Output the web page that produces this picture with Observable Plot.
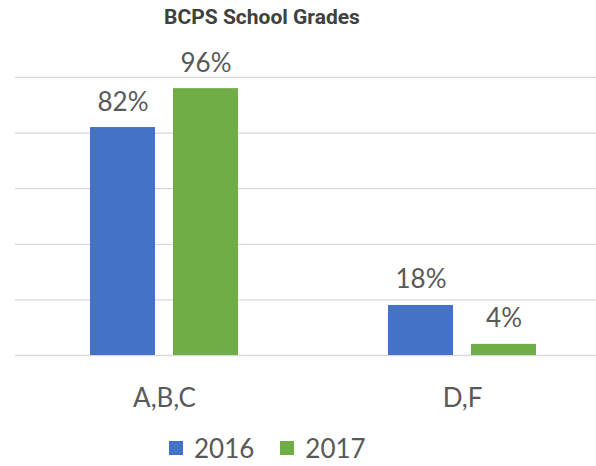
<!DOCTYPE html>
<html><head><meta charset="utf-8">
<script src="https://cdn.jsdelivr.net/npm/d3@7"></script>
<script src="https://cdn.jsdelivr.net/npm/@observablehq/plot@0.6"></script>
<style>
body{margin:0;background:#fff;}
#wrap{position:relative;width:596px;height:466px;overflow:hidden;font-family:Lato,"Open Sans",sans-serif;}
#title{position:absolute;left:0;width:524px;top:5px;text-align:center;font-weight:bold;font-size:21px;font-family:"Liberation Sans Narrow",Roboto,sans-serif;color:#404040;white-space:nowrap;}
#chart{position:absolute;left:0;top:0;}
#legend{position:absolute;top:433px;left:169px;display:flex;align-items:center;font-size:26px;color:#595959;line-height:30px;}
.sw{width:14px;height:14px;display:inline-block;margin-right:11px;}
.item{display:flex;align-items:center;margin-right:26px;}
</style></head><body>
<div id="wrap"><div id="chart"></div><div id="title"></div><div id="legend"></div></div>
<script>
const titleText = "BCPS School Grades";
const categories = ["A,B,C", "D,F"];
const years = ["2016", "2017"];
const values2016 = [82, 18];
const values2017 = [96, 4];
const gridTicks = [0, 20, 40, 60, 80, 100];
const colors = ["#4472C4", "#70AD47"];

const data = categories.flatMap((c, i) => [
  {category: c, year: years[0], value: values2016[i]},
  {category: c, year: years[1], value: values2017[i]}
]);

document.getElementById("title").textContent = titleText;

const plot = Plot.plot({
  width: 596, height: 430,
  marginTop: 77, marginBottom: 75, marginLeft: 14, marginRight: 0,
  fx: {domain: categories, range: [14, 611], padding: 0, label: null},
  x: {domain: years, paddingInner: 0.214, paddingOuter: 0.884, axis: null},
  y: {domain: [0, 100], axis: null},
  color: {domain: years, range: colors},
  style: {fontFamily: "Lato, 'Open Sans', sans-serif", color: "#595959", background: "transparent"},
  marks: [
    Plot.ruleY(gridTicks, {stroke: "#d9d9d9", strokeWidth: 1.3}),
    Plot.barY(data, {fx: "category", x: "year", y: "value", fill: "year"}),
    Plot.text(data, {fx: "category", x: "year", y: "value", text: d => d.value + "%", lineAnchor: "bottom", dy: -17, fontSize: 26, fill: "#595959"}),
    Plot.axisFx({anchor: "bottom", tickSize: 0, tickPadding: 33, fontSize: 26, label: null, color: "#595959"})
  ]
});
document.getElementById("chart").appendChild(plot);

const legend = document.getElementById("legend");
years.forEach((y, i) => {
  const item = document.createElement("div");
  item.className = "item";
  const sw = document.createElement("span");
  sw.className = "sw";
  sw.style.background = colors[i];
  const t = document.createElement("span");
  t.textContent = y;
  item.appendChild(sw); item.appendChild(t);
  legend.appendChild(item);
});
</script>
</body></html>
